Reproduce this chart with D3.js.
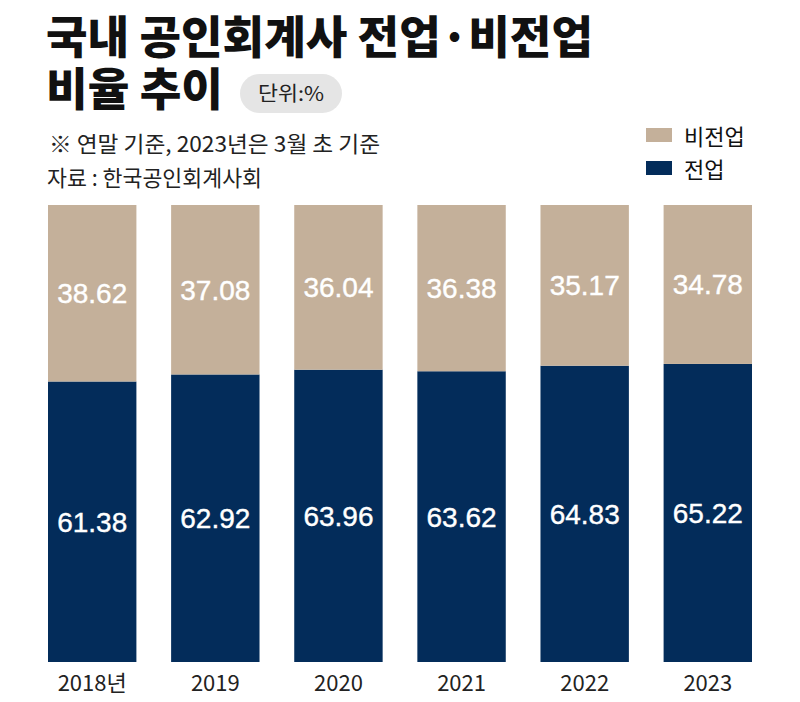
<!DOCTYPE html>
<html><head><meta charset="utf-8">
<script src="https://cdn.jsdelivr.net/npm/d3@7"></script>
<style>body{margin:0;background:#fff}svg{display:block}</style>
</head><body>
<script>
const years = ["2018년","2019","2020","2021","2022","2023"];
const fulltime = [61.38,62.92,63.96,63.62,64.83,65.22];   // 전업
const parttime = [38.62,37.08,36.04,36.38,35.17,34.78];   // 비전업
const seriesNames = ["비전업","전업"];
const colors = {"전업":"#032c5a","비전업":"#c4b09a"};

const W=800,H=702;
const svg=d3.select("body").append("svg").attr("width",W).attr("height",H);
const kr = "'Noto Sans CJK KR','Noto Sans',sans-serif";
const num = "'Liberation Sans',Arial,sans-serif";
const narrow = "'Liberation Sans Narrow','Noto Sans CJK KR',sans-serif";

// title
svg.append("text").attr("x",46).attr("y",54).attr("font-family",kr).attr("font-weight",900)
  .attr("font-size",45).attr("fill","#111").attr("textLength",547).attr("lengthAdjust","spacingAndGlyphs")
  .text("국내 공인회계사 전업·비전업");
svg.append("text").attr("x",46).attr("y",106).attr("font-family",kr).attr("font-weight",900)
  .attr("font-size",45).attr("fill","#111").attr("textLength",177).attr("lengthAdjust","spacingAndGlyphs")
  .text("비율 추이");
svg.append("rect").attr("x",240).attr("y",74).attr("width",102).attr("height",39).attr("rx",19.5).attr("fill","#e5e5e5");
svg.append("text").attr("x",291).attr("y",101).attr("text-anchor","middle").attr("font-family",kr)
  .attr("font-size",20).attr("fill","#222").attr("textLength",66).attr("lengthAdjust","spacingAndGlyphs").text("단위:%");

svg.append("text").attr("x",49).attr("y",152).attr("font-family",kr).attr("font-size",22).attr("fill","#222")
  .attr("textLength",331).attr("lengthAdjust","spacingAndGlyphs").text("※ 연말 기준, 2023년은 3월 초 기준");
svg.append("text").attr("x",47).attr("y",186).attr("font-family",kr).attr("font-size",22).attr("fill","#222")
  .attr("textLength",215).attr("lengthAdjust","spacingAndGlyphs").text("자료 : 한국공인회계사회");

// legend
const leg = svg.append("g");
seriesNames.forEach((n,i)=>{
  leg.append("rect").attr("x",646).attr("y",128+i*33).attr("width",26).attr("height",14).attr("fill",colors[n]);
  leg.append("text").attr("x",684).attr("y",145+i*33).attr("font-family",kr).attr("font-size",22)
    .attr("fill","#111").text(n);
});

// scales
const x = d3.scaleBand().domain(years).range([48,752]).paddingInner(0.282).paddingOuter(0);
const y = d3.scaleLinear().domain([0,100]).range([662,205]);

const data = years.map((yr,i)=>({year:yr,"전업":fulltime[i],"비전업":parttime[i]}));
const stack = d3.stack().keys(["전업","비전업"])(data);

const g = svg.append("g");
stack.forEach(layer=>{
  g.selectAll(null).data(layer).join("rect")
   .attr("x",d=>x(d.data.year)).attr("width",x.bandwidth())
   .attr("y",d=>y(d[1])).attr("height",d=>y(d[0])-y(d[1]))
   .attr("fill",colors[layer.key]);
  g.selectAll(null).data(layer).join("text")
   .attr("x",d=>x(d.data.year)+x.bandwidth()/2)
   .attr("y",d=>(y(d[0])+y(d[1]))/2+10)
   .attr("text-anchor","middle").attr("font-family",num).attr("font-size",28)
   .attr("fill","#fff").attr("stroke","#fff").attr("stroke-width",0.4)
   .text(d=>d.data[layer.key].toFixed(2));
});

// x axis
const ax = svg.append("g").attr("transform","translate(0,662)")
  .call(d3.axisBottom(x).tickSize(0).tickPadding(0));
ax.select(".domain").remove();
ax.selectAll("text").attr("y",29).attr("dy",0).attr("font-family",narrow).attr("font-size",22)
  .attr("fill","#222");
</script>
</body></html>
